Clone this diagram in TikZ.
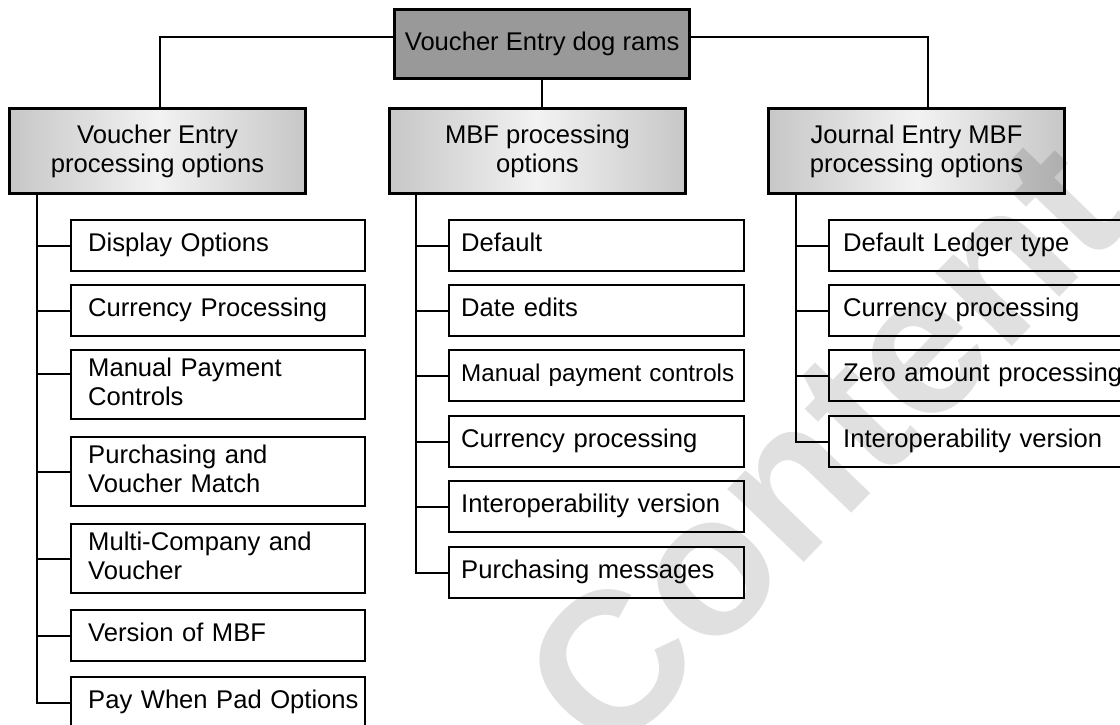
\documentclass[tikz,border=0pt]{standalone}
\usepackage{fontspec}
\setmainfont{Liberation Sans}
\hyphenpenalty=10000
\exhyphenpenalty=10000
\hbadness=10000
\hfuzz=100pt
\begin{document}
\begin{tikzpicture}[x=1pt,y=-1pt,
  txt/.style={font=\fontsize{25.6}{29}\selectfont},
  rootbox/.style={txt, draw, line width=3.3pt, fill=black!40, minimum width=295pt,
    minimum height=69pt, inner sep=0pt, anchor=north west},
  headbox/.style={txt, draw, line width=3pt, left color=black!22, right color=black!22,
    middle color=black!5, minimum width=296pt, minimum height=85pt, inner sep=0pt,
    align=center, anchor=north west},
  leaf/.style={txt, draw, line width=2.4pt, anchor=north west, minimum height=51pt,
    align=left, inner ysep=0pt, execute at begin node=\strut, execute at end node=\strut},
  tall/.style={minimum height=69pt},
  colA/.style={leaf, minimum width=294pt, inner xsep=17pt, text width=260pt},
  colB/.style={leaf, minimum width=295pt, inner xsep=12pt, text width=271pt},
  colC/.style={leaf, minimum width=297pt, inner xsep=14pt, text width=269pt},
  link/.style={line width=2pt},
]
\useasboundingbox (0,0) rectangle (1120,725);
\clip (0,0) rectangle (1120,725);

% root and the three group headers
\node[rootbox] (root) at (393,8) {Voucher Entry dog rams};
\node[headbox] (hA) at (8,107)   {Voucher Entry\\processing options};
\node[headbox] (hB) at (388,107) {MBF processing\\options};
\node[headbox] (hC) at (767,107) {Journal Entry MBF\\processing options};

\draw[link] ([yshift=7.5pt]root.west) -| ([xshift=2pt]hA.north);
\draw[link] (root.south) -- (root.south |- hB.north);
\draw[link] ([yshift=7.5pt]root.east) -| ([xshift=11.5pt]hC.north);

% voucher entry options
\node[colA] (A1) at (70,219) {Display~Options};
\node[colA] (A2) at (70,284) {Currency~Processing};
\node[colA,tall] (A3) at (70,349) {Manual~Payment\\Controls};
\node[colA,tall] (A4) at (70,436) {Purchasing~and\\Voucher~Match};
\node[colA,tall] (A5) at (70,523) {Multi-Company~and\\Voucher};
\node[colA] (A6) at (70,609) {Version~of~MBF};
\node[colA] (A7) at (70,676) {Pay~When~Pad~Options};

\coordinate (sA) at ([xshift=29pt]hA.south west);
\coordinate (a3) at ([yshift=10.5pt]A3.west);
\draw[link] (sA) |- (A7.west);
\draw[link] (sA |- a3) -- (a3);
\foreach \n in {A1,A2,A4,A5,A6} \draw[link] (sA |- \n.west) -- (\n.west);

% MBF options
\node[colB] (B1) at (448,219) {Default};
\node[colB] (B2) at (448,284) {Date~edits};
\node[colB, font=\fontsize{24.2}{29}\selectfont] (B3) at (448,349) {Manual~payment~controls};
\node[colB] (B4) at (448,415) {Currency~processing};
\node[colB] (B5) at (448,480) {Interoperability~version};
\node[colB] (B6) at (448,546) {Purchasing~messages};

\coordinate (sB) at ([xshift=28pt]hB.south west);
\draw[link] (sB) |- (B6.west);
\foreach \n in {B1,B2,B3,B4,B5} \draw[link] (sB |- \n.west) -- (\n.west);

% journal entry MBF options
\node[colC] (C1) at (828,219) {Default~Ledger~type};
\node[colC] (C2) at (828,284) {Currency~processing};
\node[colC] (C3) at (828,349) {Zero~amount~processing};
\node[colC] (C4) at (828,415) {Interoperability~version};

\coordinate (sC) at ([xshift=29pt]hC.south west);
\draw[link] (sC) |- (C4.west);
\foreach \n in {C1,C2,C3} \draw[link] (sC |- \n.west) -- (\n.west);

% faint diagonal watermark
\node (mark) [rotate=46, opacity=0.12, font=\bfseries\fontsize{200}{200}\selectfont]
  at (822,445) {Content};
\end{tikzpicture}
\end{document}
